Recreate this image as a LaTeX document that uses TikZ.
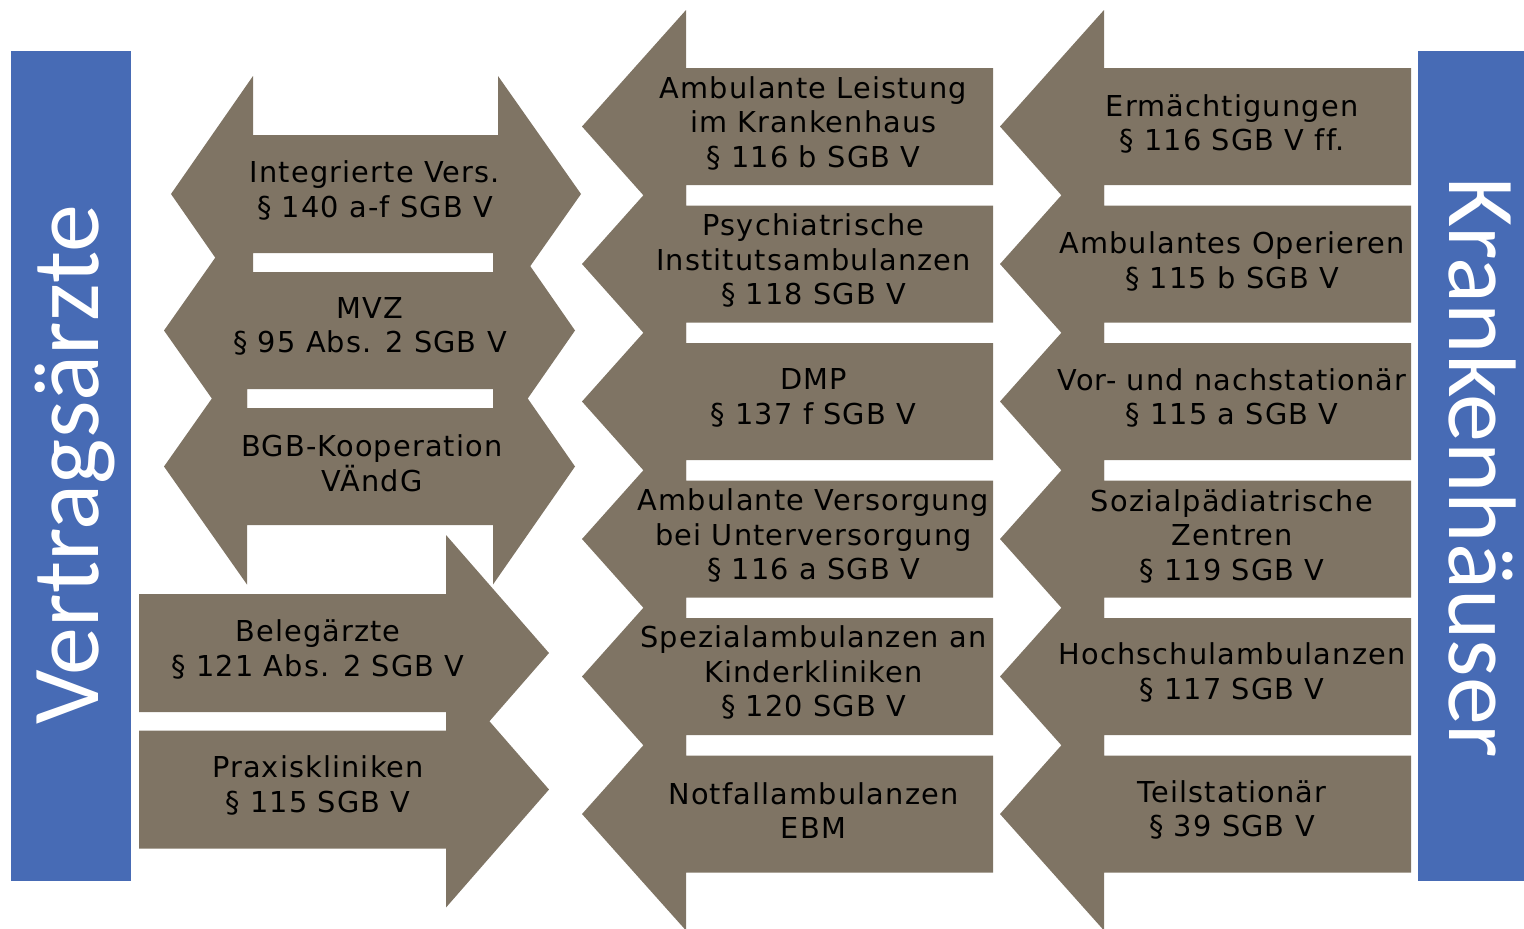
\documentclass[tikz,border=0pt]{standalone}
\usepackage{fontspec}
\usepackage{tikz}
\newfontfamily\boxfont[LetterSpace=4, Ligatures=NoCommon]{DejaVu Sans}
\newfontfamily\barfont{Carlito}
\definecolor{arrowTan}{HTML}{7F7464}
\definecolor{barBlue}{HTML}{476BB5}
\tikzstyle{tanArrow}=[fill = arrowTan, draw = none]
\tikzstyle{sideBar}=[fill = barBlue, draw = none]
\tikzstyle{boxLabel}=[align = center, inner sep = 0pt, text = black, font = \boxfont\fontsize{14.4}{17.25}\selectfont]
\tikzstyle{barLabel}=[inner sep = 0pt, text = white, font = \barfont\fontsize{48}{56}\selectfont]

\begin{document}
\begin{tikzpicture}[x = 0.5pt, y = -0.5pt]
\useasboundingbox (0,0) rectangle (1524,928);
% side bars
\fill[sideBar] (11,51) rectangle (131,881);
\fill[sideBar] (1418,51) rectangle (1524,881);
\node[barLabel, rotate = 90] (vertrag) at (75,465) {Vertragsärzte};
\node[barLabel, rotate = -90] (kranken) at (1482,468) {Krankenhäuser};
% double arrows, left
\fill[tanArrow] (253,135) -- (253,76) -- (171,194) -- (253,312) -- (253,253) -- (498,253) -- (498,312) -- (581,194) -- (498,76) -- (498,135) -- cycle;
\fill[tanArrow] (247,272) -- (247,212.5) -- (164,330.5) -- (247,448.5) -- (247,389) -- (493,389) -- (493,448.5) -- (575,330.5) -- (493,212.5) -- (493,272) -- cycle;
\fill[tanArrow] (247,408) -- (247,348.5) -- (164,466.5) -- (247,584.5) -- (247,525) -- (493,525) -- (493,584.5) -- (575,466.5) -- (493,348.5) -- (493,408) -- cycle;
% arrows to the right
\fill[tanArrow] (139,594) -- (446,594) -- (446,535) -- (549,653) -- (446,771) -- (446,712) -- (139,712) -- cycle;
\fill[tanArrow] (139,730.5) -- (446,730.5) -- (446,671.5) -- (549,789.5) -- (446,907.5) -- (446,848.5) -- (139,848.5) -- cycle;
% middle column
\fill[tanArrow] (993,68) -| (686,10) -- (582,126.5) -- (686,243) |- (993,185) -- cycle;
\fill[tanArrow] (993,205.5) -| (686,147.5) -- (582,264) -- (686,380.5) |- (993,322.5) -- cycle;
\fill[tanArrow] (993,343) -| (686,285) -- (582,401.5) -- (686,518) |- (993,460) -- cycle;
\fill[tanArrow] (993,480.5) -| (686,422.5) -- (582,539) -- (686,655.5) |- (993,597.5) -- cycle;
\fill[tanArrow] (993,618) -| (686,560) -- (582,676.5) -- (686,793) |- (993,735) -- cycle;
\fill[tanArrow] (993,755.5) -| (686,697.5) -- (582,814) -- (686,930.5) |- (993,872.5) -- cycle;
% right column
\fill[tanArrow] (1411,68) -| (1104,10) -- (1000,126.5) -- (1104,243) |- (1411,185) -- cycle;
\fill[tanArrow] (1411,205.5) -| (1104,147.5) -- (1000,264) -- (1104,380.5) |- (1411,322.5) -- cycle;
\fill[tanArrow] (1411,343) -| (1104,285) -- (1000,401.5) -- (1104,518) |- (1411,460) -- cycle;
\fill[tanArrow] (1411,480.5) -| (1104,422.5) -- (1000,539) -- (1104,655.5) |- (1411,597.5) -- cycle;
\fill[tanArrow] (1411,618) -| (1104,560) -- (1000,676.5) -- (1104,793) |- (1411,735) -- cycle;
\fill[tanArrow] (1411,755.5) -| (1104,697.5) -- (1000,814) -- (1104,930.5) |- (1411,872.5) -- cycle;
% labels
\node[boxLabel] (d1) at (375,190.5) {Integrierte Vers.\\§ 140 a-f SGB V};
\node[boxLabel] (d2) at (370,326.5) {MVZ\\§ 95 Abs. 2 SGB V};
\node[boxLabel] (d3) at (372,463.5) {BGB-Kooperation\\VÄndG};
\node[boxLabel] (p1) at (318,649.5) {Belegärzte\\§ 121 Abs. 2 SGB V};
\node[boxLabel] (p2) at (318,785.5) {Praxiskliniken\\§ 115 SGB V};
\node[boxLabel] (m1) at (813.5,123) {Ambulante Leistung\\im Krankenhaus\\§ 116 b SGB V};
\node[boxLabel] (m2) at (813.5,260.5) {Psychiatrische\\Institutsambulanzen\\§ 118 SGB V};
\node[boxLabel] (m3) at (813.5,398) {DMP\\§ 137 f SGB V};
\node[boxLabel] (m4) at (813.5,535.5) {Ambulante Versorgung\\bei Unterversorgung\\§ 116 a SGB V};
\node[boxLabel] (m5) at (813.5,672.5) {Spezialambulanzen an\\Kinderkliniken\\§ 120 SGB V};
\node[boxLabel] (m6) at (813.5,810.5) {Notfallambulanzen\\EBM};
\node[boxLabel] (r1) at (1232,124) {Ermächtigungen\\§ 116 SGB V ff.};
\node[boxLabel] (r2) at (1232,261.5) {Ambulantes Operieren\\§ 115 b SGB V};
\node[boxLabel] (r3) at (1232,398) {Vor- und nachstationär\\§ 115 a SGB V};
\node[boxLabel] (r4) at (1232,536) {Sozialpädiatrische\\Zentren\\§ 119 SGB V};
\node[boxLabel] (r5) at (1232,672.5) {Hochschulambulanzen\\§ 117 SGB V};
\node[boxLabel] (r6) at (1232,810) {Teilstationär\\§ 39 SGB V};
\end{tikzpicture}
\end{document}
